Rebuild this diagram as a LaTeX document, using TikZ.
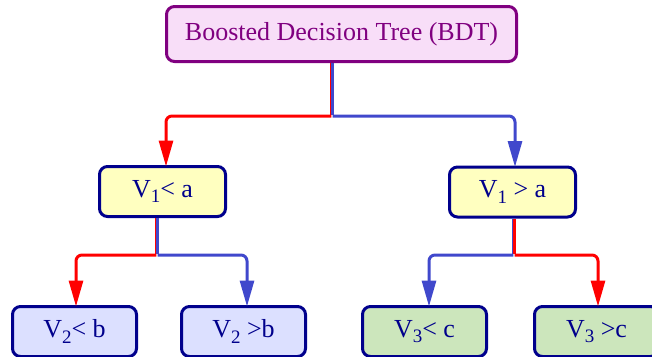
\documentclass[tikz,border=0pt]{standalone}
\usepackage{fontspec}
\setmainfont{Liberation Serif}
\usetikzlibrary{arrows.meta}
\definecolor{bpurple}{RGB}{128,0,128}
\definecolor{tfill}{RGB}{248,222,248}
\definecolor{bnavy}{RGB}{0,0,140}
\definecolor{yfill}{RGB}{255,255,192}
\definecolor{lfill}{RGB}{220,224,255}
\definecolor{gfill}{RGB}{204,230,188}
\definecolor{cred}{RGB}{255,0,0}
\definecolor{cblue}{RGB}{64,72,204}
\newcommand\mysub[1]{\raisebox{-0.2em}{\fontsize{19}{19}\selectfont #1}}
\tikzset{
  boxbase/.style={draw, rounded corners=8pt, line width=3pt, inner sep=0pt, font=\fontsize{26}{30}\selectfont},
  topbox/.style={boxbase, draw=bpurple, fill=tfill, text=bpurple, minimum width=350pt, minimum height=55pt},
  midbox/.style={boxbase, draw=bnavy, fill=yfill, text=bnavy, minimum width=126pt, minimum height=50pt},
  leafl/.style={boxbase, draw=bnavy, fill=lfill, text=bnavy, minimum width=124pt, minimum height=50pt},
  leafr/.style={boxbase, draw=bnavy, fill=gfill, text=bnavy, minimum width=124pt, minimum height=50pt},
  conn/.style={line width=3pt, rounded corners=6pt, -{Triangle[length=26pt,width=14pt]}},
  stemline/.style={line width=3pt},
  redc/.style={conn, draw=cred},
  bluec/.style={conn, draw=cblue},
}
\begin{document}
\begin{tikzpicture}[x=1pt,y=-1pt]
\useasboundingbox (0,0) rectangle (652,356);
\node[topbox] (top) at (341.5,34) {Boosted Decision Tree (BDT)};
\node[midbox] (m1) at (162.5,191.5) {V\mysub{1}< a};
\node[midbox] (m2) at (512.5,192) {V\mysub{1} > a};
\node[leafl] (b1) at (74.5,331.5) {V\mysub{2}< b};
\node[leafl] (b2) at (243.5,331.5) {V\mysub{2} >b};
\node[leafr] (b3) at (424.5,331.5) {V\mysub{3}< c};
\node[leafr] (b4) at (596.5,331.5) {V\mysub{3} >c};
\coordinate (j0) at (332,116);
\coordinate (j1) at (157,255);
\coordinate (j2) at (514,255);
% top split
\draw[stemline, draw=cred] ([xshift=-0.7pt]top.south -| j0) -- ([xshift=-0.7pt,yshift=1.5pt]j0);
\draw[stemline, draw=cblue] ([xshift=0.7pt]top.south -| j0) -- ([xshift=0.7pt,yshift=1.5pt]j0);
\draw[redc] ([xshift=-0.7pt]j0) -| ([xshift=3.5pt,yshift=-1.5pt]m1.north);
\draw[bluec] ([xshift=0.7pt]j0) -| ([xshift=2.5pt,yshift=-1.5pt]m2.north);
% left split
\draw[stemline, draw=cred] ([xshift=-0.7pt]m1.south -| j1) -- ([xshift=-0.7pt,yshift=1.5pt]j1);
\draw[stemline, draw=cblue] ([xshift=0.7pt]m1.south -| j1) -- ([xshift=0.7pt,yshift=1.5pt]j1);
\draw[redc] ([xshift=-0.7pt]j1) -| ([xshift=1.5pt,yshift=-1.5pt]b1.north);
\draw[bluec] ([xshift=0.7pt]j1) -| ([xshift=3.5pt,yshift=-1.5pt]b2.north);
% right split
\draw[stemline, draw=cblue] ([xshift=-0.7pt]m2.south -| j2) -- ([xshift=-0.7pt,yshift=1.5pt]j2);
\draw[stemline, draw=cred] ([xshift=0.7pt]m2.south -| j2) -- ([xshift=0.7pt,yshift=1.5pt]j2);
\draw[bluec] ([xshift=-0.7pt]j2) -| ([xshift=4.5pt,yshift=-1.5pt]b3.north);
\draw[redc] ([xshift=0.7pt]j2) -| ([xshift=1.5pt,yshift=-1.5pt]b4.north);
\end{tikzpicture}
\end{document}
